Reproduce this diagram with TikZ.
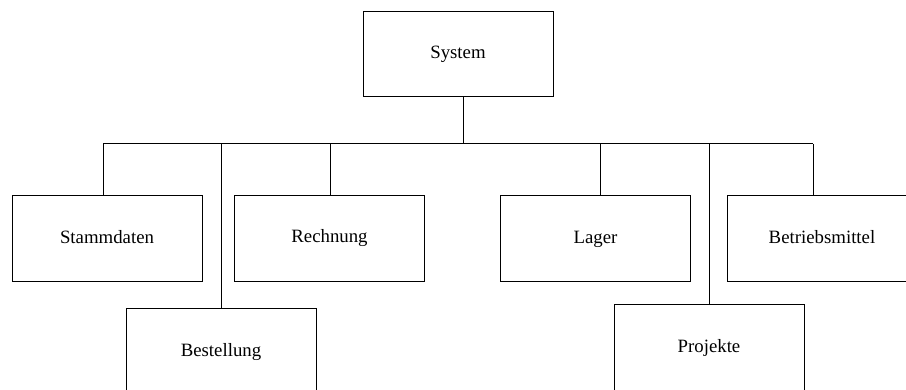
\documentclass[tikz,border=0pt]{standalone}
\usepackage{fontspec}
\setmainfont{Liberation Serif}
\begin{document}
\begin{tikzpicture}[x=1pt,y=-1pt,
  box/.style={draw=black,line width=1pt,minimum width=190pt,minimum height=86pt,inner sep=0pt,text height=13pt,text depth=4pt,font=\fontsize{18.8}{22}\selectfont},
  conn/.style={draw=black,line width=1pt}]
\useasboundingbox (0,0) rectangle (906,390);
\clip (0,0) rectangle (906,390);
\node[box,minimum height=85pt] (sys) at (458,54.5) {System};
\node[box] (stamm) at (107,239) {Stammdaten};
\node[box] (rech) at (329.5,238.5) {Rechnung};
\node[box] (lager) at (595.5,239) {Lager};
\node[box] (betr) at (822,239) {Betriebsmittel};
\node[box] (best) at (221,352) {Bestellung};
\node[box] (proj) at (709,348) {Projekte};
\coordinate (j0) at (463,144);
\coordinate (jL) at (103,144);
\coordinate (jB) at (221,144);
\coordinate (jR) at (330,144);
\coordinate (jLa) at (600,144);
\coordinate (jP) at (709,144);
\coordinate (jE) at (813,144);
\draw[conn] (sys.south -| j0) -- (j0);
\draw[conn] (jL) -- (jE);
\draw[conn] (jL) -- (stamm.north -| jL);
\draw[conn] (jB) -- (best.north -| jB);
\draw[conn] (jR) -- (rech.north -| jR);
\draw[conn] (jLa) -- (lager.north -| jLa);
\draw[conn] (jP) -- (proj.north -| jP);
\draw[conn] (jE) -- (betr.north -| jE);
\end{tikzpicture}
\end{document}
